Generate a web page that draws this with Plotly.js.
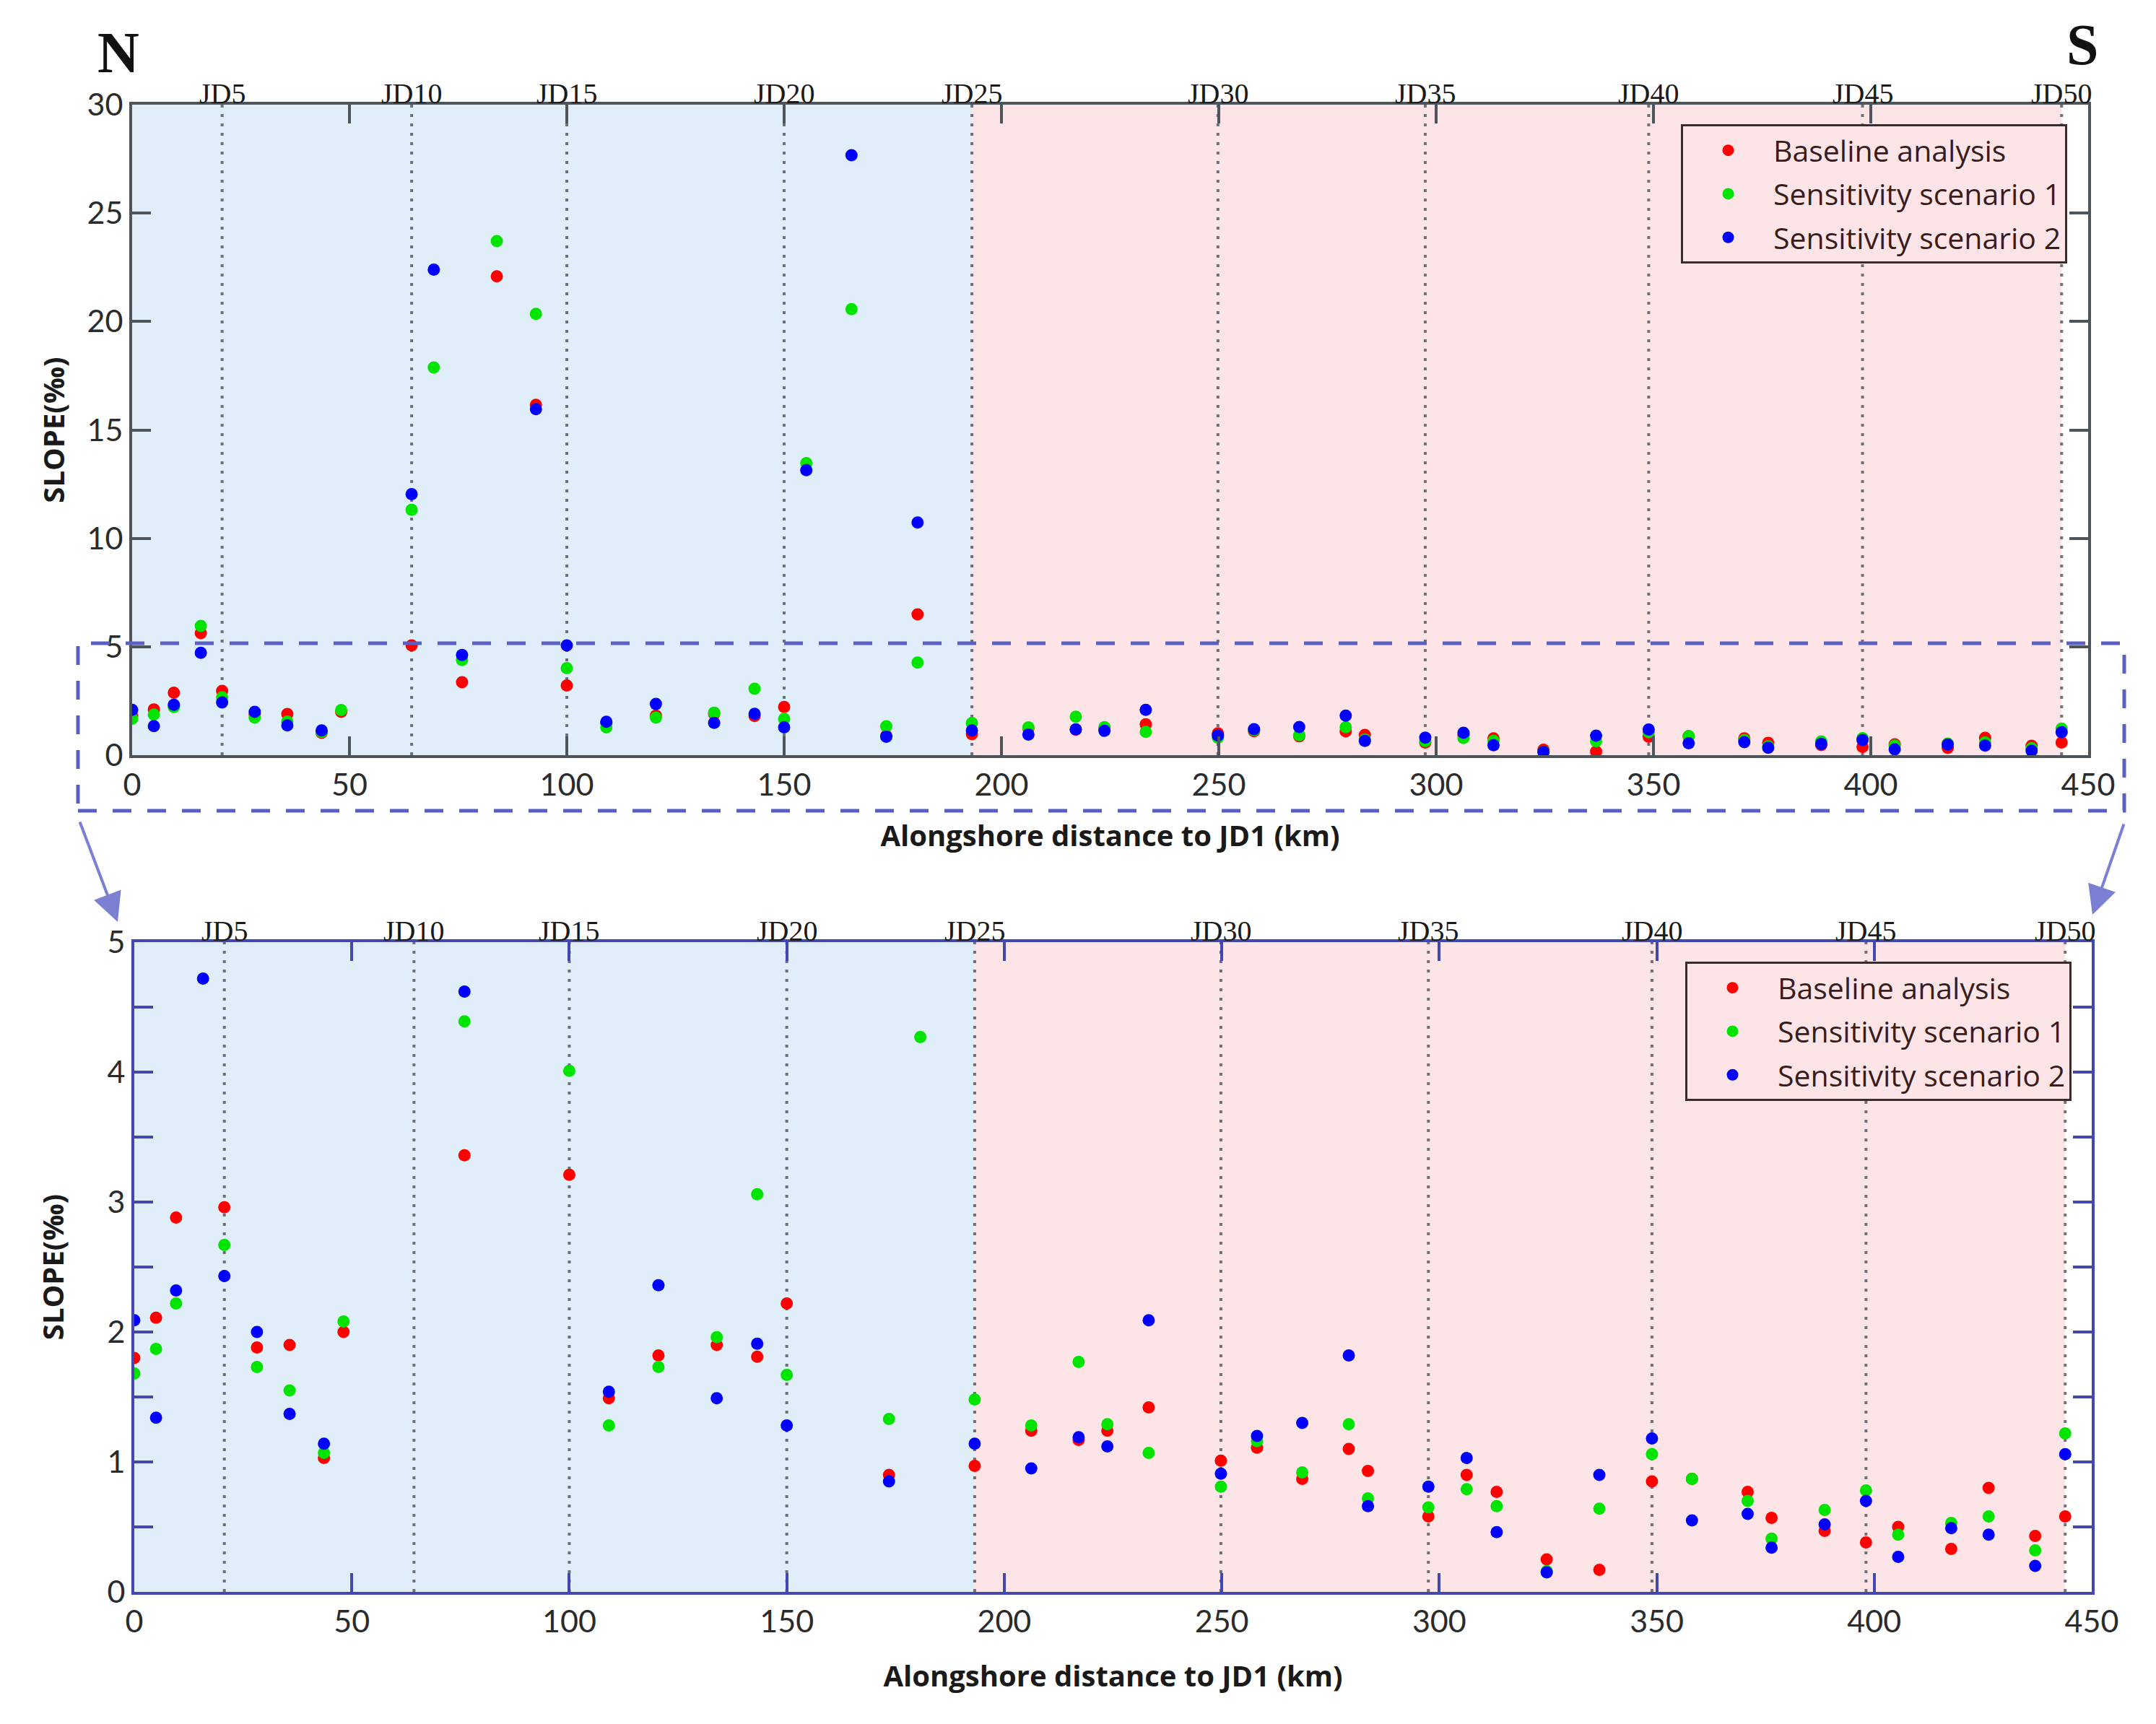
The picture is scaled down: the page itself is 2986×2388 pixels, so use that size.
<!DOCTYPE html>
<html>
<head>
<meta charset="utf-8">
<script src="https://cdn.plot.ly/plotly-3.0.1.min.js"></script>
<style>
  html, body { margin: 0; padding: 0; background: #fff; }
  #chart { width: 2986px; height: 2388px; }
</style>
</head>
<body>
<div id="chart"></div>
<script>
// alongshore distance of each profile JD1..JD50 (km)
const dist = [0, 5, 9.6, 15.8, 20.7, 28.2, 35.7, 43.6, 48.1, 64.3,
  69.4, 75.9, 83.9, 92.9, 100, 109.1, 120.5, 133.9, 143.2, 150,
  155.1, 165.5, 173.5, 180.7, 193.2, 206.2, 217.1, 223.7, 233.2, 249.8,
  258.1, 268.5, 279.2, 283.6, 297.5, 306.3, 313.2, 324.7, 336.8, 348.9,
  358.1, 370.9, 376.4, 388.6, 398.1, 405.5, 417.7, 426.3, 437, 443.9];

// slope (‰)
const baseline = [1.80, 2.11, 2.88, 5.63, 2.96, 1.88, 1.90, 1.03, 2.00, 5.06,
  null, 3.36, 22.08, 16.16, 3.21, 1.49, 1.82, 1.90, 1.81, 2.22,
  null, null, 0.90, 6.49, 0.97, 1.24, 1.17, 1.24, 1.42, 1.01,
  1.11, 0.87, 1.10, 0.93, 0.58, 0.90, 0.77, 0.25, 0.17, 0.85,
  0.87, 0.77, 0.57, 0.47, 0.38, 0.50, 0.33, 0.80, 0.43, 0.58];
const scenario1 = [1.68, 1.87, 2.22, 5.96, 2.67, 1.73, 1.55, 1.07, 2.08, 11.31,
  17.88, 4.39, 23.71, 20.35, 4.01, 1.28, 1.73, 1.96, 3.06, 1.67,
  13.47, 20.57, 1.33, 4.27, 1.48, 1.28, 1.77, 1.29, 1.07, 0.81,
  1.16, 0.92, 1.29, 0.72, 0.65, 0.79, 0.66, 0.16, 0.64, 1.06,
  0.87, 0.70, 0.41, 0.63, 0.78, 0.44, 0.53, 0.58, 0.32, 1.22];
const scenario2 = [2.09, 1.34, 2.32, 4.72, 2.43, 2.00, 1.37, 1.14, null, 12.04,
  22.39, 4.62, null, 15.96, 5.06, 1.54, 2.36, 1.49, 1.91, 1.28,
  13.14, 27.67, 0.85, 10.73, 1.14, 0.95, 1.19, 1.12, 2.09, 0.91,
  1.20, 1.30, 1.82, 0.66, 0.81, 1.03, 0.46, 0.15, 0.90, 1.18,
  0.55, 0.60, 0.34, 0.52, 0.70, 0.27, 0.49, 0.44, 0.20, 1.06];

const seriesNames = ['Baseline analysis', 'Sensitivity scenario 1', 'Sensitivity scenario 2'];
const seriesColors = ['#ff0000', '#00e400', '#0000ff'];
const jdMarks = [5, 10, 15, 20, 25, 30, 35, 40, 45, 50];

const W = 2986, H = 2388;
const px = v => v / W;
const py = v => 1 - v / H;

const series = [baseline, scenario1, scenario2];
const traces = [];
[['x', 'y', 'legend'], ['x2', 'y2', 'legend2']].forEach(([xa, ya, lg]) => {
  series.forEach((ys, i) => {
    traces.push({
      x: dist, y: ys, type: 'scatter', mode: 'markers',
      name: seriesNames[i], xaxis: xa, yaxis: ya, legend: lg,
      legendgroup: lg + i,
      marker: { color: seriesColors[i], size: 17 },
      hoverinfo: 'x+y'
    });
  });
});

function axisBase(color) {
  return {
    showline: true, linecolor: color, linewidth: 4, mirror: 'ticks',
    ticks: 'inside', ticklen: 26, tickwidth: 4, tickcolor: color,
    showgrid: false, zeroline: false,
    tickfont: { family: 'Lato', size: 43, color: '#2b2b2b' }
  };
}
const titleFont = { family: 'Open Sans', size: 40, color: '#1a1a1a' };
const legendFont = { family: 'Open Sans', size: 41, color: '#3a1c1c' };

const topColor = '#4d545a', botColor = '#4347b0';

const layout = {
  width: W, height: H,
  margin: { l: 0, r: 0, t: 0, b: 0 },
  paper_bgcolor: '#fff', plot_bgcolor: '#fff',
  showlegend: true,
  xaxis: Object.assign(axisBase(topColor), {
    domain: [px(183), px(2892)], range: [0, 450], dtick: 50, tick0: 0, anchor: 'y',
    title: { text: '<b>Alongshore distance to JD1 (km)</b>', font: titleFont, standoff: 35 }
  }),
  yaxis: Object.assign(axisBase(topColor), {
    domain: [py(1046), py(145)], range: [0, 30], dtick: 5, anchor: 'x',
    title: { text: '<b>SLOPE(‰)</b>', font: titleFont, standoff: 20 }
  }),
  xaxis2: Object.assign(axisBase(botColor), {
    domain: [px(186), px(2897)], range: [0, 450], dtick: 50, tick0: 0, anchor: 'y2',
    title: { text: '<b>Alongshore distance to JD1 (km)</b>', font: titleFont, standoff: 40 }
  }),
  yaxis2: Object.assign(axisBase(botColor), {
    domain: [py(2205), py(1305)], range: [0, 5], dtick: 1, anchor: 'x2',
    minor: { dtick: 0.5, ticks: 'inside', ticklen: 26, tickwidth: 4, tickcolor: botColor },
    title: { text: '<b>SLOPE(‰)</b>', font: titleFont, standoff: 48 }
  }),
  legend: {
    x: px(2863), xanchor: 'right', y: py(172), yanchor: 'top',
    bgcolor: '#fde5e7', bordercolor: '#3a2c2c', borderwidth: 3,
    font: legendFont, itemwidth: 115, tracegroupgap: 4
  },
  legend2: {
    x: px(2869), xanchor: 'right', y: py(1332), yanchor: 'top',
    bgcolor: '#fde5e7', bordercolor: '#3a2c2c', borderwidth: 3,
    font: legendFont, itemwidth: 115, tracegroupgap: 4
  },
  shapes: [],
  annotations: []
};

const jd25 = dist[24], jd50 = dist[49];
[['x', 'y'], ['x2', 'y2']].forEach(([xa, ya]) => {
  layout.shapes.push({ type: 'rect', xref: xa, yref: ya + ' domain', x0: 0, x1: jd25, y0: 0, y1: 1,
    fillcolor: '#e0eef9', line: { width: 0 }, layer: 'below' });
  layout.shapes.push({ type: 'rect', xref: xa, yref: ya + ' domain', x0: jd25, x1: jd50, y0: 0, y1: 1,
    fillcolor: '#fde5e7', line: { width: 0 }, layer: 'below' });
  jdMarks.forEach(k => {
    const xv = dist[k - 1];
    layout.shapes.push({ type: 'line', xref: xa, yref: ya + ' domain', x0: xv, x1: xv, y0: 0, y1: 1,
      line: { color: 'rgba(70,70,80,0.75)', width: 4, dash: '4px,9px' }, layer: 'below' });
    layout.annotations.push({ xref: xa, yref: ya + ' domain', x: xv, y: 1, yanchor: 'bottom',
      yshift: -9, showarrow: false, text: 'JD' + k,
      font: { family: 'Liberation Serif', size: 40, color: '#1a1a1a' } });
  });
});

// dashed box marking the zoomed 0-5 range
layout.shapes.push({ type: 'rect', xref: 'paper', yref: 'paper',
  x0: px(108), x1: px(2942), y0: py(1123), y1: py(891),
  line: { color: '#5a5fc4', width: 5, dash: '26px,22px' }, layer: 'above' });

// arrows to the zoomed panel
layout.annotations.push({ xref: 'paper', yref: 'paper', x: px(163), y: py(1277), ax: -53, ay: -140,
  text: '', showarrow: true, arrowhead: 2, arrowsize: 2, arrowwidth: 4, arrowcolor: '#7c80d2' });
layout.annotations.push({ xref: 'paper', yref: 'paper', x: px(2898), y: py(1267), ax: 44, ay: -127,
  text: '', showarrow: true, arrowhead: 2, arrowsize: 2, arrowwidth: 4, arrowcolor: '#7c80d2' });

// compass letters
layout.annotations.push({ xref: 'paper', yref: 'paper', x: px(164), y: py(73),
  xanchor: 'center', yanchor: 'middle', showarrow: false,
  text: '<b>N</b>', font: { family: 'Liberation Serif', size: 80, color: '#111' } });
layout.annotations.push({ xref: 'paper', yref: 'paper', x: px(2884), y: py(62),
  xanchor: 'center', yanchor: 'middle', showarrow: false,
  text: '<b>S</b>', font: { family: 'Liberation Serif', size: 80, color: '#111' } });

Plotly.newPlot('chart', traces, layout, { displayModeBar: false, staticPlot: true });
</script>
</body>
</html>
